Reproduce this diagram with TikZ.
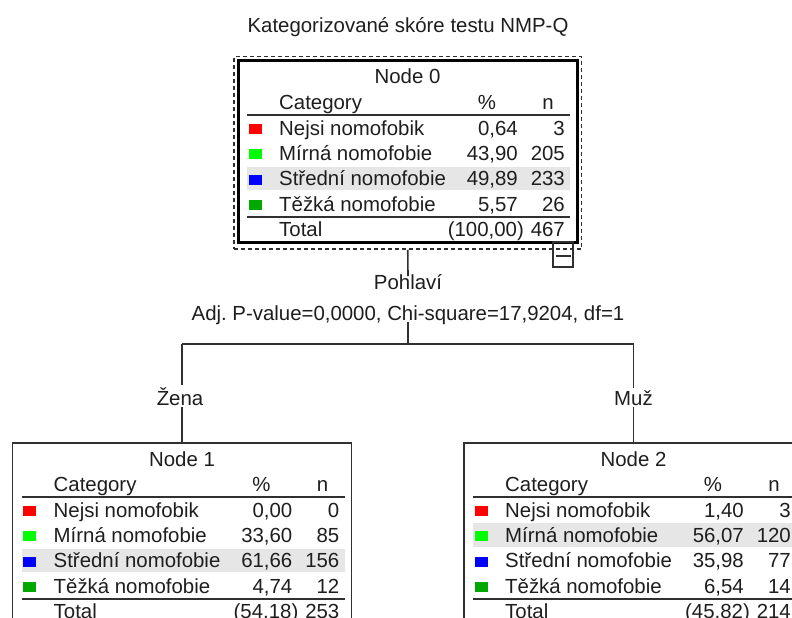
\documentclass[tikz,border=0pt]{standalone}
\usepackage{fontspec}
\setmainfont{Liberation Sans}
\frenchspacing
\definecolor{txtcol}{HTML}{1E1E1E}
\definecolor{linecol}{HTML}{303030}
\definecolor{bandcol}{HTML}{E6E6E6}
\definecolor{cred}{HTML}{FF0000}
\definecolor{clime}{HTML}{00FF00}
\definecolor{cblue}{HTML}{0000FF}
\definecolor{cgreen}{HTML}{00A800}
\tikzset{
  txt/.style={inner sep=0pt, text=txtcol},
  lbl/.style={inner sep=2pt, text=txtcol, fill=white},
  sq/.style={minimum width=13pt, minimum height=10pt, inner sep=0pt, draw=none},
  conn/.style={line width=1.6pt, draw=linecol},
  rulel/.style={line width=2pt, draw=linecol},
  band/.style={fill=bandcol},
  boxthin/.style={draw=linecol, line width=1.6pt, minimum width=339pt, minimum height=181pt, inner sep=0pt},
  boxthick/.style={draw=black, line width=3pt, minimum width=339pt, minimum height=181pt, inner sep=0pt},
  boxdash/.style={draw=linecol, line width=1.5pt, dash pattern=on 4pt off 3pt, minimum width=347.5pt, minimum height=192.5pt, inner sep=0pt},
}
\newcommand\trow[6]{%
  \node[sq,fill=#3] (#1sq) at (17,#2-6) {};
  \node[txt,anchor=base west] (#1cat) at (41,#2) {#4};
  \node[txt,anchor=base east] (#1pct) at (280,#2) {#5};
  \node[txt,anchor=base east] (#1n) at (327,#2) {#6};}
\newcommand\thead[2]{%
  \node[txt,anchor=base] (#1lab) at (169.5,23) {#2};
  \node[txt,anchor=base west] (#1hc) at (41,48.5) {Category};
  \node[txt,anchor=base] (#1hp) at (249,48.5) {\%};
  \node[txt,anchor=base] (#1hn) at (310,48.5) {n};
  \draw[rulel] (9,54) -- (332,54);
  \draw[rulel, line width=2.5pt] (9,156) -- (332,156);}
\newcommand\ttotal[3]{%
  \node[txt,anchor=base west] (#1tc) at (41,175) {Total};
  \node[txt,anchor=base east] (#1tp) at (286,175) {#2};
  \node[txt,anchor=base east] (#1tn) at (327,175) {#3};}
\begin{document}
\begin{tikzpicture}[x=1pt,y=-1pt,font=\fontsize{20.4}{24}\selectfont]
\useasboundingbox (0,0) rectangle (792,618);
\clip (0,0) rectangle (792,618);
\fill[white] (0,0) rectangle (792,618);

\node[txt,anchor=base] (title) at (408,33) {Kategorizované skóre testu NMP-Q};

% Node 0
\node[boxdash] (n0dash) at (407.75,152.75) {};
\node[boxthick] (n0) at (407.5,151.5) {};
\begin{scope}[shift={(238,61)}]
  \fill[band] (9,124.8-19) rectangle (332,124.8+4.5);
  \thead{a}{Node 0}
  \trow{a1}{74}{cred}{Nejsi nomofobik}{0,64}{3}
  \trow{a2}{99.4}{clime}{Mírná nomofobie}{43,90}{205}
  \trow{a3}{124.8}{cblue}{Střední nomofobie}{49,89}{233}
  \trow{a4}{150.2}{cgreen}{Těžká nomofobie}{5,57}{26}
  \ttotal{a}{(100,00)}{467}
\end{scope}
\node[draw=linecol, line width=1.5pt, minimum width=20pt, minimum height=25pt, inner sep=0pt] (tog) at (563,254.5) {};
\draw[line width=2pt, draw=linecol] ([xshift=4pt,yshift=-1.5pt]tog.west) -- ([xshift=-3pt,yshift=-1.5pt]tog.east);

% split
\node[txt,anchor=base] (pohl) at (408,289.3) {Pohlaví};
\node[txt,anchor=base] (adj) at (408,320.5) {Adj. P-value=0,0000, Chi-square=17,9204, df=1};
\coordinate (bm) at (408,344);
\coordinate (b1) at (182,344);
\coordinate (b2) at (633.5,344);
\draw[conn] (n0dash.south) -- ([yshift=-2pt]pohl.north);
\draw[conn] ([yshift=3pt]adj.south) -- (bm);
\draw[conn] (b1) -- (b2);

% Node 1
\node[boxthin] (n1) at (182,533.5) {};
\begin{scope}[shift={(12.5,443)}]
  \fill[band] (9,124.8-19) rectangle (332,124.8+4.5);
  \thead{b}{Node 1}
  \trow{b1}{74}{cred}{Nejsi nomofobik}{0,00}{0}
  \trow{b2}{99.4}{clime}{Mírná nomofobie}{33,60}{85}
  \trow{b3}{124.8}{cblue}{Střední nomofobie}{61,66}{156}
  \trow{b4}{150.2}{cgreen}{Těžká nomofobie}{4,74}{12}
  \ttotal{b}{(54,18)}{253}
\end{scope}

% Node 2
\node[boxthin] (n2) at (633.5,533.5) {};
\begin{scope}[shift={(464,443)}]
  \fill[band] (9,99.4-19) rectangle (332,99.4+4.5);
  \thead{c}{Node 2}
  \trow{c1}{74}{cred}{Nejsi nomofobik}{1,40}{3}
  \trow{c2}{99.4}{clime}{Mírná nomofobie}{56,07}{120}
  \trow{c3}{124.8}{cblue}{Střední nomofobie}{35,98}{77}
  \trow{c4}{150.2}{cgreen}{Těžká nomofobie}{6,54}{14}
  \ttotal{c}{(45,82)}{214}
\end{scope}

% branch labels
\node[lbl,anchor=base] (zena) at (180,405) {Žena};
\node[lbl,anchor=base] (muz) at (633.5,405) {Muž};
\draw[conn] (b1) -- (b1 |- zena.north);
\draw[conn] (b1 |- zena.south) -- (n1.north);
\draw[conn] (b2) -- (muz.north);
\draw[conn] (muz.south) -- (n2.north);
\end{tikzpicture}
\end{document}
